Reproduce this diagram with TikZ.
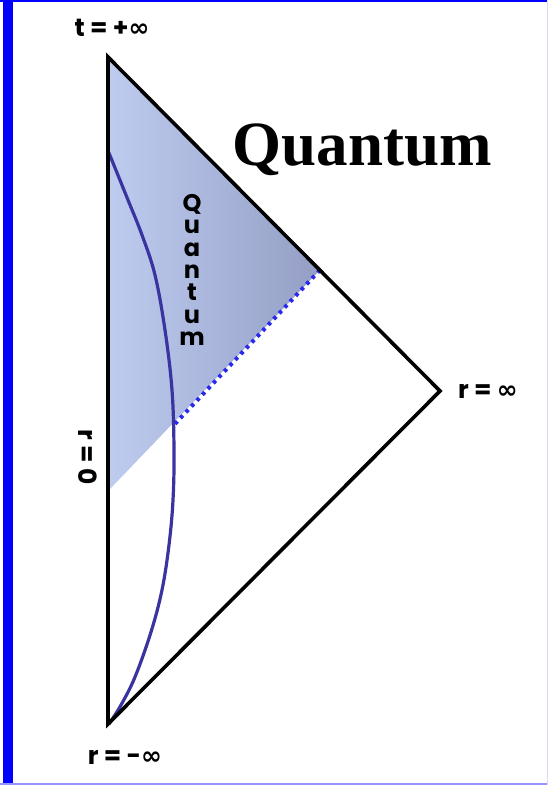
\documentclass[tikz,border=0pt]{standalone}
\usepackage{fontspec}
\setmainfont{Liberation Serif}
\newfontfamily\lblfont{Poppins}
\newfontfamily\symfont{DejaVu Sans}
\usetikzlibrary{calc}
\definecolor{frameblue}{RGB}{0,0,255}
\definecolor{framelight}{RGB}{150,150,255}
\definecolor{shadelight}{RGB}{190,204,240}
\definecolor{shadedark}{RGB}{148,158,196}
\definecolor{curveblue}{RGB}{58,52,160}
\definecolor{dotblue}{RGB}{40,40,238}
\tikzset{
  lbl/.style={font=\lblfont\bfseries\fontsize{25}{28}\selectfont, inner sep=0pt},
  edge/.style={line width=3.6pt, line join=miter, black},
  worldline/.style={line width=3.2pt, curveblue},
  horizon/.style={line width=4pt, dotblue, dash pattern=on 3.5pt off 4.5pt},
}
\begin{document}
\begin{tikzpicture}[x=1pt,y=-1pt]
\useasboundingbox (0,0) rectangle (548,785);
\fill[white] (0,0) rectangle (548,785);
% frame
\fill[frameblue] (3,0) rectangle (13,785);
\fill[frameblue] (0,0) rectangle (548,2.2);
\fill[framelight] (0,783) rectangle (548,785);
\fill[blue!15] (546.5,0) rectangle (548,785);
% vertices
\coordinate (top) at (108,57);
\coordinate (right) at (440,391);
\coordinate (bot) at (108,724);
\coordinate (hz) at (320,270);
\coordinate (hl) at (108,491);
\coordinate (hc) at (172,427);
% shaded quantum region
\shade[left color=shadelight, right color=shadedark] (top) -- (hz) -- (hl) -- cycle;
% horizon
\draw[horizon] (hz) -- (hc);
% world line
\draw[worldline] plot[smooth, tension=0.6] coordinates {(109,153) (128,200) (142,235) (155,275) (165,330) (172,390) (174,450) (173,500) (169,545) (162,590) (151,632) (135,677) (121,705) (109,724)};
% triangle
\draw[edge] (top) -- (right) -- (bot) -- cycle;
% labels
\node[lbl] (tinf) at (112,28) {t = +{\symfont\bfseries ∞}};
\node[lbl] (rinf) at (488,391) {r = {\symfont\bfseries ∞}};
\node[lbl] (rminf) at (125,757) {r = -{\symfont\bfseries ∞}};
\node[lbl, rotate=-90] (rzero) at (88,457) {r = 0};
\node[font=\bfseries\fontsize{63}{70}\selectfont, inner sep=0pt, anchor=base] (title) at (362,165) {Quantum};
\node[lbl, align=center, font=\lblfont\bfseries\fontsize{24}{22.3}\selectfont] (vq) at (192,270) {Q\\u\\a\\n\\t\\u\\m};
\end{tikzpicture}
\end{document}
